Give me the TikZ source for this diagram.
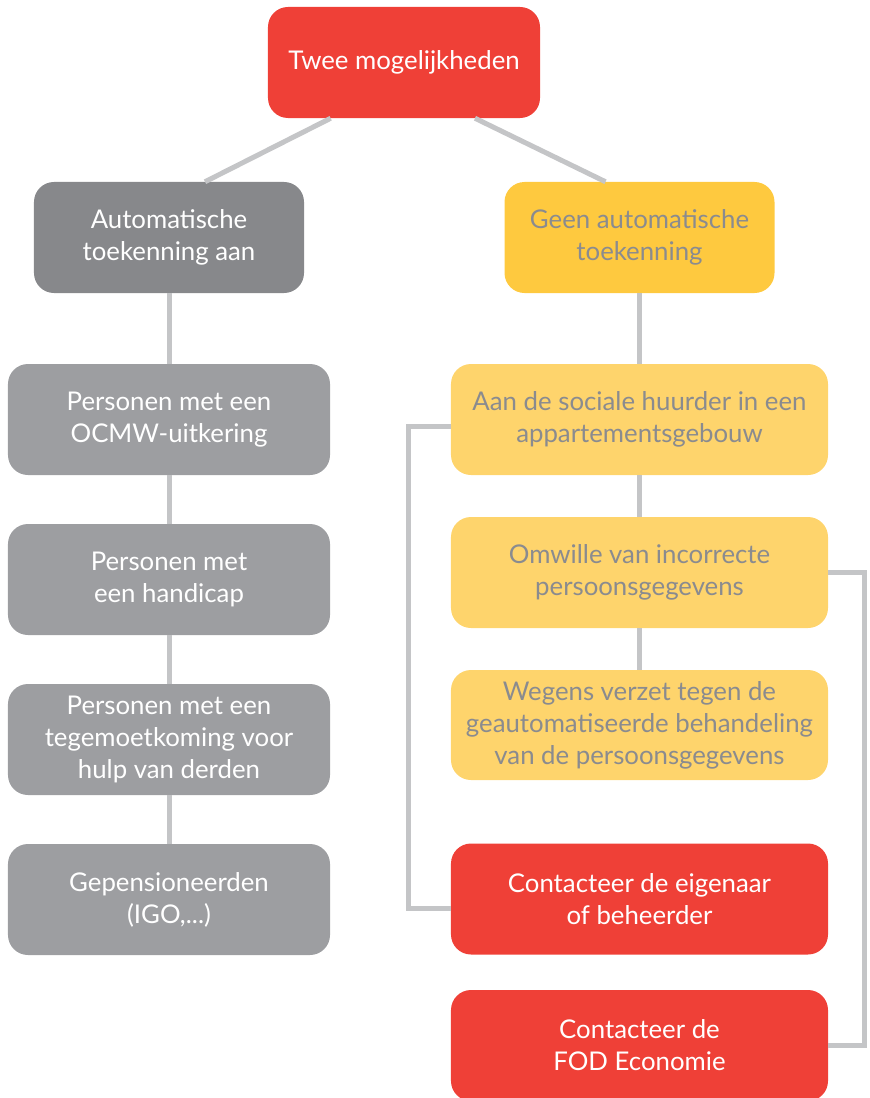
\documentclass[tikz,border=0pt]{standalone}
\usepackage{fontspec}
\setmainfont{Lato}
\usetikzlibrary{calc}
\definecolor{boxred}{HTML}{EF4037}
\definecolor{boxdark}{HTML}{87888B}
\definecolor{boxgrey}{HTML}{9D9EA1}
\definecolor{boxyellow}{HTML}{FEC93F}
\definecolor{boxpale}{HTML}{FED46C}
\definecolor{linegrey}{HTML}{C4C5C7}
\definecolor{textgrey}{HTML}{8A8B8F}
\tikzset{
  box/.style={rounded corners=0.6cm, align=center, inner sep=0pt,
    minimum height=3.33cm, font=\fontsize{22}{27.3}\selectfont},
  redbox/.style={box, fill=boxred, text=white},
  darkbox/.style={box, fill=boxdark, text=white, minimum width=8.1cm},
  greybox/.style={box, fill=boxgrey, text=white, minimum width=9.66cm},
  yellowbox/.style={box, fill=boxyellow, text=textgrey, minimum width=8.1cm},
  palebox/.style={box, fill=boxpale, text=textgrey, minimum width=11.31cm},
  link/.style={draw=linegrey, line width=0.15cm}
}

\begin{document}
\begin{tikzpicture}[x=0.03cm, y=-0.03cm]
			%%%%% START %%%%%
			\useasboundingbox (0, 0) rectangle (869, 1098);
			
			\node[redbox, minimum width=8.16cm] (top) at (404, 62.5) {Twee mogelijkheden};
			
			\node[darkbox] (auto) at (169, 237.5) {Automatische\\toekenning aan};
			\node[yellowbox] (geen) at (639.5, 237.5) {Geen automatische\\toekenning};
			
			\node[greybox] (ocmw) at (169, 419.5) {Personen met een\\OCMW-uitkering};
			\node[greybox] (handicap) at (169, 579.5) {Personen met\\een handicap};
			\node[greybox] (hulp) at (169, 739.5) {Personen met een\\tegemoetkoming voor\\hulp van derden};
			\node[greybox] (igo) at (169, 899.5) {Gepensioneerden\\(IGO,...)};
			
			\node[palebox] (aan) at (639.5, 419.5) {Aan de sociale huurder in een\\appartementsgebouw};
			\node[palebox] (omw) at (639.5, 572.5) {Omwille van incorrecte\\persoonsgegevens};
			\node[palebox, minimum height=3.3cm] (verzet) at (639.5, 725) {Wegens verzet tegen de\\geautomatiseerde behandeling\\van de persoonsgegevens};
			
			\node[redbox, minimum width=11.31cm] (eig) at (639.5, 899) {Contacteer de eigenaar\\of beheerder};
			\node[redbox, minimum width=11.31cm] (fod) at (639.5, 1045.5) {Contacteer de\\FOD Economie};
			
			% connectors
			\draw[link] ([xshift=-2.2cm]top.south) -- ([xshift=1.08cm]auto.north);
			\draw[link] ([xshift=2.13cm]top.south) -- ([xshift=-1.02cm]geen.north);
			
			\draw[link] (auto) -- (ocmw);
			\draw[link] (ocmw) -- (handicap);
			\draw[link] (handicap) -- (hulp);
			\draw[link] (hulp) -- (igo);
			
			\draw[link] (geen) -- (aan);
			\draw[link] (aan) -- (omw);
			\draw[link] (omw) -- (verzet);
			
			\draw[link] ([yshift=-0.2cm]aan.west) -- ++(-1.26cm, 0) |- ([yshift=-0.27cm]eig.west);
			\draw[link] (omw.east) -- ++(1.08cm, 0) |- (fod.east);
			
			%%%%% END %%%%%
		\end{tikzpicture}
\end{document}
